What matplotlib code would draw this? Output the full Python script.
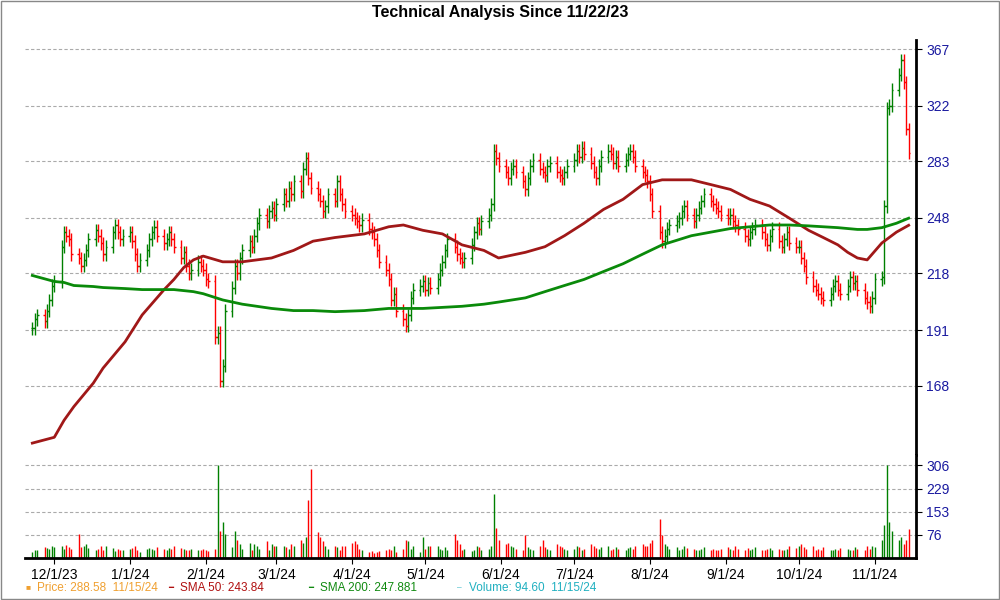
import matplotlib
matplotlib.use('Agg')
import matplotlib.pyplot as plt
import matplotlib.dates as mdates
from matplotlib.ticker import FixedLocator, NullLocator
import numpy as np
import pandas as pd

plt.rcParams['font.family'] = ['Liberation Sans', 'DejaVu Sans']

# daily closes, one list per month
close_nov23 = [192, 196, 198, 195, 200, 205, 212]
close_dec23 = [214, 232, 240, 238, 236, 228, 226, 222, 225, 230, 236, 241, 238, 234, 228, 232, 240, 244, 240, 236, 238]
close_jan24 = [240, 235, 228, 222, 225, 230, 236, 240, 243, 238, 234, 236, 240, 236, 232, 226, 229, 222, 218, 220, 224, 222, 220]
close_feb24 = [215, 214, 188, 190, 170, 176, 200, 211, 222, 218, 226, 230, 235, 232, 238, 245, 250, 246, 252, 254, 250]
close_mar24 = [256, 262, 258, 266, 262, 270, 264, 278, 285, 272, 266, 262, 258, 252, 255, 262, 258, 270, 262, 256, 252]
close_apr24 = [250, 248, 246, 244, 247, 242, 240, 236, 230, 224, 220, 215, 205, 208, 200, 196, 193, 198, 206, 210, 212, 214]
close_may24 = [210, 213, 211, 215, 220, 224, 230, 236, 232, 228, 226, 224, 226, 233, 240, 245, 242, 246, 250, 256, 290, 285, 280]
close_jun24 = [276, 272, 278, 280, 276, 270, 265, 272, 280, 284, 278, 276, 274, 280, 282, 276, 274, 272, 276, 280]
close_jul24 = [284, 290, 286, 292, 288, 282, 276, 272, 280, 286, 290, 288, 282, 286, 280, 284, 288, 290, 286, 280, 276, 274, 270]
close_aug24 = [262, 252, 240, 235, 238, 242, 244, 246, 248, 252, 255, 250, 246, 250, 254, 258, 262, 258, 256, 254, 252, 250]
close_sep24 = [248, 250, 246, 244, 242, 238, 236, 240, 242, 244, 240, 236, 233, 238, 242, 235, 232, 236, 240, 234, 232]
close_oct24 = [232, 226, 222, 216, 212, 210, 208, 206, 205, 208, 212, 214, 210, 208, 212, 216, 213, 214, 210, 206, 204, 202, 206]
close_nov24 = [215, 216, 255, 320, 322, 334, 346, 358, 340, 305, 288.58]

vol_nov23 = [20, 28, 25, 35, 33, 30, 40]
vol_dec23 = [36, 38, 30, 42, 36, 30, 80, 35, 40, 45, 34, 28, 30, 38, 25, 40, 32, 24, 30, 28, 26]
vol_jan24 = [30, 34, 38, 28, 20, 30, 34, 30, 28, 35, 30, 26, 34, 30, 38, 32, 30, 28, 25, 30, 28, 26, 30]
vol_feb24 = [28, 24, 30, 306, 90, 120, 80, 35, 90, 60, 45, 30, 50, 28, 45, 40, 30, 55, 25, 45, 40]
vol_mar24 = [38, 40, 35, 30, 45, 40, 60, 50, 70, 190, 295, 85, 70, 55, 40, 30, 40, 35, 25, 38, 40]
vol_apr24 = [50, 55, 45, 30, 25, 20, 22, 18, 20, 22, 25, 30, 28, 40, 20, 30, 60, 55, 30, 40, 20, 70]
vol_may24 = [30, 38, 38, 40, 30, 28, 35, 25, 80, 60, 45, 25, 30, 24, 25, 40, 35, 25, 30, 40, 210, 100, 60]
vol_jun24 = [45, 50, 40, 35, 30, 28, 75, 35, 30, 28, 40, 60, 35, 30, 25, 45, 40, 35, 30, 28]
vol_jul24 = [30, 40, 35, 28, 30, 45, 38, 32, 30, 35, 40, 28, 30, 36, 30, 28, 32, 35, 30, 40, 45, 38, 40]
vol_aug24 = [50, 60, 130, 75, 45, 38, 30, 35, 28, 30, 40, 32, 30, 26, 28, 30, 35, 25, 30, 28, 26, 30]
vol_sep24 = [35, 30, 28, 40, 30, 25, 32, 28, 30, 35, 28, 25, 30, 32, 28, 30, 26, 28, 30, 40, 32]
vol_oct24 = [40, 45, 35, 30, 38, 28, 30, 26, 35, 28, 25, 30, 28, 32, 30, 26, 28, 35, 30, 25, 38, 30, 40]
vol_nov24 = [35, 60, 110, 306, 120, 90, 60, 70, 45, 60, 94.6]

sma_dates = ['2023-11-22', '2023-12-01', '2023-12-05', '2023-12-09', '2023-12-17', '2023-12-21', '2023-12-30',
             '2024-01-06', '2024-01-15', '2024-01-19', '2024-01-23', '2024-01-27', '2024-01-31', '2024-02-08',
             '2024-02-16', '2024-02-22', '2024-02-28', '2024-03-08', '2024-03-16', '2024-03-25', '2024-04-06',
             '2024-04-16', '2024-04-22', '2024-04-30', '2024-05-08', '2024-05-16', '2024-05-25', '2024-05-31',
             '2024-06-11', '2024-06-19', '2024-06-27', '2024-07-05', '2024-07-13', '2024-07-21', '2024-07-29',
             '2024-08-06', '2024-08-18', '2024-08-26', '2024-09-03', '2024-09-11', '2024-09-19', '2024-09-27',
             '2024-10-05', '2024-10-11', '2024-10-17', '2024-10-21', '2024-10-25', '2024-10-29', '2024-11-04',
             '2024-11-10', '2024-11-15']
sma50 = [147, 149, 155, 160, 169, 175, 186, 198, 210, 215, 221, 225, 227, 224, 224, 225, 226, 230, 235, 237,
         239, 243, 244, 241, 239, 233, 230, 226, 229, 232, 238, 245, 253, 259, 268, 271, 271, 268, 265, 259,
         255, 248, 241, 237, 233, 229, 226, 225, 234, 240, 243.84]
sma200 = [217, 214, 213.5, 212, 211.5, 211, 210.5, 210, 210, 210, 209.5, 209, 208, 205, 203, 202, 201, 200,
          200, 199.5, 200, 201, 201, 201, 201.5, 202, 203, 204, 206, 209, 212, 215, 219, 223, 228, 233, 238,
          240, 242, 243, 244, 244, 243.5, 243, 242.5, 242, 241.5, 241.5, 242.5, 245, 247.881]

closes = np.array(close_nov23 + close_dec23 + close_jan24 + close_feb24 + close_mar24 + close_apr24 + close_may24
                  + close_jun24 + close_jul24 + close_aug24 + close_sep24 + close_oct24 + close_nov24, dtype=float)
vols = np.array(vol_nov23 + vol_dec23 + vol_jan24 + vol_feb24 + vol_mar24 + vol_apr24 + vol_may24
                + vol_jun24 + vol_jul24 + vol_aug24 + vol_sep24 + vol_oct24 + vol_nov24, dtype=float)
days = pd.bdate_range('2023-11-22', '2024-11-15')
opens = np.r_[closes[0], closes[:-1]]
highs = np.maximum(opens, closes) * 1.015
lows = np.minimum(opens, closes) * 0.985
up = closes >= opens
x = mdates.date2num(days)
cols = np.where(up, '#008000', '#ff0000')

fig = plt.figure(figsize=(10, 6), dpi=100)
ax = fig.add_axes([0.025, 0.2417, 0.891, 0.6916])
axv = fig.add_axes([0.025, 0.07, 0.891, 0.1717], sharex=ax)

# price bars
ax.vlines(x, lows, highs, colors=cols, lw=1.0)
ax.hlines(opens, x - 0.7, x, colors=cols, lw=1.0)
ax.hlines(closes, x, x + 0.7, colors=cols, lw=1.0)
sd = mdates.date2num(pd.to_datetime(sma_dates))
ax.plot(sd, sma50, color='#a01818', lw=2.0)
ax.plot(sd, sma200, color='#0a8a0a', lw=2.0)

ax.set_yscale('log')
ax.set_ylim(143, 375)
pticks = [168, 191, 218, 248, 283, 322, 367]
ax.yaxis.set_major_locator(FixedLocator(pticks))
ax.yaxis.set_minor_locator(NullLocator())
ax.set_yticklabels([str(t) for t in pticks])
ax.yaxis.tick_right()
ax.grid(axis='y', color='#aaaaaa', ls=(0, (3, 2)), lw=0.8)

# volume
axv.vlines(x, 0, vols, colors=cols, lw=1.0)
axv.set_ylim(0, 340)
vticks = [76, 153, 229, 306]
axv.set_yticks(vticks)
axv.yaxis.tick_right()
axv.grid(axis='y', color='#aaaaaa', ls=(0, (3, 2)), lw=0.8)

months = pd.date_range('2023-12-01', '2024-11-01', freq='MS')
axv.set_xticks(mdates.date2num(months))
axv.set_xticklabels([f'{d.month}/1/{d.year % 100}' for d in months])
axv.set_xlim(mdates.date2num(pd.Timestamp('2023-11-19')), mdates.date2num(pd.Timestamp('2024-11-18')))
plt.setp(ax.get_xticklabels(), visible=False)
ax.tick_params(axis='x', length=0)

for a in (ax, axv):
    for s in ('top', 'left'):
        a.spines[s].set_visible(False)
    a.spines['right'].set_linewidth(2)
    a.tick_params(axis='y', colors='black', labelcolor='#1a1aa0', labelsize=10, length=4)
ax.spines['bottom'].set_visible(False)
axv.spines['bottom'].set_linewidth(2)
axv.tick_params(axis='x', labelsize=10, length=4)

fig.text(0.5, 0.98, 'Technical Analysis Since 11/22/23', ha='center', va='center', fontsize=11.5, fontweight='bold')

legend_items = [(0.025, '#f0a030', '■', 'Price: 288.58  11/15/24'),
                (0.168, '#b01010', '━', 'SMA 50: 243.84'),
                (0.308, '#108a10', '━', 'SMA 200: 247.881'),
                (0.457, '#20b0c0', '–', 'Volume: 94.60  11/15/24')]
for lx, c, m, t in legend_items:
    fig.text(lx, 0.02, m, color=c, fontsize=6, va='center')
    fig.text(lx + 0.012, 0.02, t, color=c, fontsize=8.5, va='center')

border = plt.Rectangle((0.001, 0.001), 0.998, 0.998, transform=fig.transFigure, fill=False, ec='#888888', lw=1)
fig.patches.append(border)

fig.savefig('out.png', dpi=100)
